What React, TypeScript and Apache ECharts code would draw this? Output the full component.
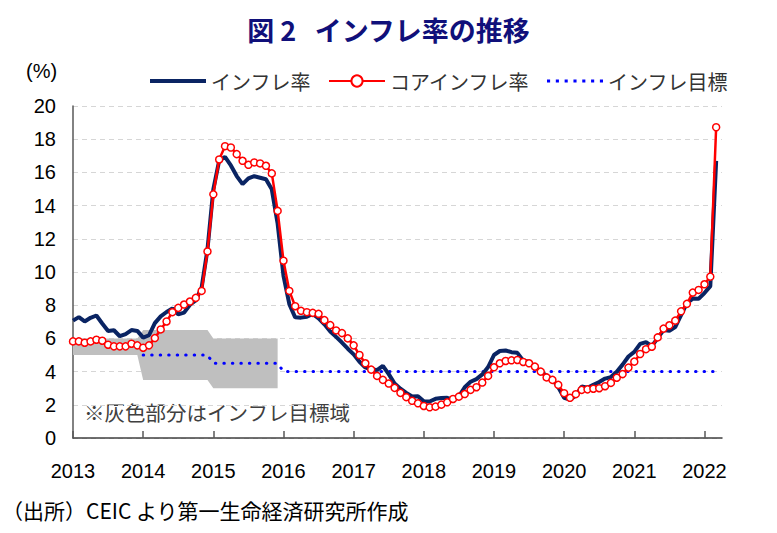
import React, { useEffect, useRef } from "react";
import * as echarts from "echarts";

const years = ["2013", "2014", "2015", "2016", "2017", "2018", "2019", "2020", "2021", "2022"];

// headline CPI (yoy, %)
const inflation = [
  7.07, 7.28, 7.02, 7.24, 7.38, 6.9, 6.45, 6.49, 6.13, 6.26, 6.5, 6.45,
  6.05, 6.19, 6.92, 7.33, 7.59, 7.8, 7.45, 7.55, 8.03, 8.29, 9.06, 11.36,
  14.97, 16.71, 16.93, 16.42, 15.78, 15.29, 15.64, 15.77, 15.68, 15.59, 14.98, 12.91,
  9.77, 8.06, 7.27, 7.25, 7.31, 7.48, 7.21, 6.85, 6.42, 6.09, 5.75, 5.38,
  5.04, 4.59, 4.25, 4.12, 4.09, 4.35, 3.85, 3.28, 2.97, 2.72, 2.5, 2.52,
  2.21, 2.2, 2.36, 2.41, 2.42, 2.3, 2.51, 3.06, 3.39, 3.55, 3.83, 4.27,
  5.0, 5.24, 5.27, 5.17, 5.13, 4.66, 4.59, 4.31, 3.99, 3.75, 3.54, 3.05,
  2.42, 2.31, 2.55, 3.1, 3.03, 3.21, 3.37, 3.58, 3.67, 3.99, 4.42, 4.91,
  5.19, 5.67, 5.78, 5.53, 6.02, 6.5, 6.46, 6.68, 7.4, 8.13, 8.4, 8.39,
  8.73, 9.15, 16.69,
];

// core CPI (yoy, %)
const coreInflation = [
  5.82, 5.82, 5.74, 5.82, 5.92, 5.86, 5.62, 5.52, 5.52, 5.52, 5.68, 5.58,
  5.44, 5.58, 6.02, 6.54, 7.02, 7.58, 7.84, 8.04, 8.22, 8.44, 8.86, 11.24,
  14.68, 16.78, 17.58, 17.5, 17.1, 16.7, 16.46, 16.6, 16.54, 16.4, 15.94, 13.68,
  10.68, 8.86, 7.94, 7.66, 7.58, 7.54, 7.48, 7.1, 6.8, 6.48, 6.32, 6.0,
  5.58, 5.0, 4.5, 4.12, 3.74, 3.5, 3.28, 3.02, 2.72, 2.46, 2.24, 2.09,
  1.93, 1.85, 1.89, 2.01, 2.15, 2.35, 2.49, 2.65, 2.9, 3.06, 3.34, 3.74,
  4.26, 4.5, 4.64, 4.68, 4.7, 4.58, 4.5, 4.3, 4.0, 3.65, 3.5, 3.2,
  2.7, 2.42, 2.64, 2.9, 2.93, 2.97, 3.0, 3.12, 3.32, 3.63, 3.85, 4.24,
  4.6, 5.06, 5.35, 5.5, 6.06, 6.59, 6.79, 7.07, 7.63, 8.08, 8.76, 8.92,
  9.26, 9.72, 18.72,
];

// inflation target (null = no point target)
const target = [
  null, null, null, null, null, null, null, null, null, null, null, null,
  5, 5, 5, 5, 5, 5, 5, 5, 5, 5, 5, 5,
  4.5, 4.5, 4.5, 4.5, 4.5, 4.5, 4.5, 4.5, 4.5, 4.5, 4.5, 4.5,
  ...Array(75).fill(4),
];

// target range per year: lower bound and upper bound
const bandYears = ["2013", "2014", "2015"];
const bandLower = [5, 3.5, 3];
const bandUpper = [6, 6.5, 6];

export default function App() {
  const ref = useRef<HTMLDivElement>(null);

  useEffect(() => {
    if (!ref.current) return;
    const chart = echarts.init(ref.current, null, { renderer: "svg" });

    const months: string[] = [];
    years.forEach((y) => {
      for (let m = 1; m <= 12; m++) months.push(`${y}/${m}`);
    });
    const categories = months.slice(0, inflation.length + 1);

    const lowerData: (number | null)[] = [];
    const widthData: (number | null)[] = [];
    for (let i = 0; i < inflation.length; i++) {
      const yIdx = bandYears.indexOf(categories[i].split("/")[0]);
      if (yIdx >= 0) {
        lowerData.push(bandLower[yIdx]);
        widthData.push(bandUpper[yIdx] - bandLower[yIdx]);
      } else {
        lowerData.push(null);
        widthData.push(null);
      }
    }

    const jp = "'Noto Sans CJK JP', sans-serif";
    const num = "'Liberation Sans', 'Noto Sans', sans-serif";

    const lineIcon = "path://M0,0h56v4h-56z";
    let dots = "path://";
    for (let k = 0; k < 7; k++) {
      const x0 = k * 8.5;
      dots += `M${x0},0h3v3h-3z`;
    }

    chart.setOption({
      animation: false,
      backgroundColor: "#ffffff",
      title: {
        text: "図 2   インフレ率の推移",
        left: "center",
        top: 11,
        textStyle: { fontFamily: jp, fontSize: 27, fontWeight: "bold", color: "#10107a" },
      },
      legend: {
        data: [
          { name: "インフレ率", icon: lineIcon },
          { name: "コアインフレ率" },
          { name: "インフレ目標", icon: dots },
        ],
        left: 145,
        top: 66,
        itemWidth: 56,
        itemHeight: 14,
        itemGap: 17,
        textStyle: { fontFamily: jp, fontSize: 20, color: "#333333" },
      },
      grid: { left: 73, right: 55, top: 106, bottom: 95, containLabel: false },
      xAxis: {
        type: "category",
        data: categories,
        boundaryGap: false,
        axisLine: { lineStyle: { color: "#404040", width: 1.5 } },
        axisTick: {
          inside: true,
          length: 7,
          interval: (i: number) => i % 12 === 0,
          lineStyle: { color: "#595959", width: 1.5 },
        },
        axisLabel: {
          interval: (i: number) => i % 12 === 0,
          formatter: (v: string) => v.split("/")[0],
          fontFamily: num,
          fontSize: 20,
          color: "#000000",
          margin: 23,
        },
        splitLine: { show: false },
      },
      yAxis: {
        type: "value",
        min: 0,
        max: 20,
        interval: 2,
        axisLine: { show: true, lineStyle: { color: "#595959", width: 1.5 } },
        axisTick: { show: false },
        axisLabel: { fontFamily: num, fontSize: 20, color: "#000000", margin: 17 },
        splitLine: { lineStyle: { type: [5, 4], color: "#d6d6d6", width: 1 } },
      },
      graphic: [
        {
          type: "text",
          left: 26,
          top: 61,
          style: { text: "(%)", fontFamily: num, fontSize: 20, fill: "#000000" },
        },
        {
          type: "text",
          left: 84,
          top: 402,
          style: { text: "※灰色部分はインフレ目標域", fontFamily: jp, fontSize: 20.5, fill: "#404040" },
        },
        {
          type: "text",
          left: 2,
          top: 499,
          style: { text: "（出所）CEIC より第一生命経済研究所作成", fontFamily: jp, fontSize: 21, fill: "#000000" },
        },
      ],
      series: [
        {
          name: "bandBase",
          type: "line",
          stack: "band",
          data: lowerData,
          symbol: "none",
          lineStyle: { opacity: 0, width: 0 },
          silent: true,
        },
        {
          name: "bandWidth",
          type: "line",
          stack: "band",
          data: widthData,
          symbol: "none",
          lineStyle: { opacity: 0, width: 0 },
          areaStyle: { color: "#bfbfbf", opacity: 1 },
          silent: true,
        },
        {
          name: "インフレ目標",
          type: "line",
          data: target,
          symbol: "none",
          itemStyle: { color: "#0000ff" },
          lineStyle: { color: "#0000ff", width: 3, type: [0.5, 8], cap: "round" },
        },
        {
          name: "インフレ率",
          type: "line",
          data: inflation,
          symbol: "none",
          itemStyle: { color: "#0a2463" },
          lineStyle: { color: "#0a2463", width: 4 },
        },
        {
          name: "コアインフレ率",
          type: "line",
          data: coreInflation,
          symbol: "circle",
          symbolSize: 7,
          showSymbol: true,
          showAllSymbol: true,
          itemStyle: { color: "#ffffff", borderColor: "#ff0000", borderWidth: 1.5 },
          lineStyle: { color: "#ff0000", width: 2.5 },
        },
      ],
    });

    return () => chart.dispose();
  }, []);

  return (
    <div
      ref={ref}
      style={{ position: "fixed", left: 0, top: 0, width: 777, height: 533, background: "#fff" }}
    />
  );
}
